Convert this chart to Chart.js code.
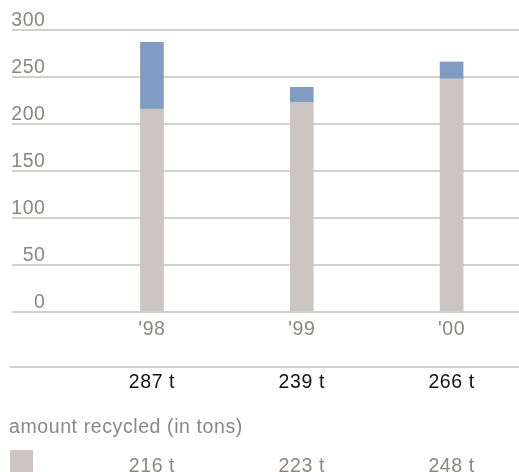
<!DOCTYPE html>
<html>
<head>
<meta charset="utf-8">
<script src="https://cdn.jsdelivr.net/npm/chart.js@4"></script>
<style>
  html, body { margin: 0; padding: 0; background: #fff; }
  #wrap { width: 519px; height: 472px; }
</style>
</head>
<body>
<div id="wrap"><canvas id="recycleChart" width="519" height="472"></canvas></div>
<script>
const years = ["'98", "'99", "'00"];
const totals = [287, 239, 266];
const recycled = [216, 223, 248];
const yTicks = [0, 50, 100, 150, 200, 250, 300];

const FONT = '"Liberation Sans", Arial, Helvetica, sans-serif';
const GREY_TEXT = '#8c8684';
const GRID = '#d3cfcd';
const BAR_GREY = '#cbc6c3';
const BAR_BLUE = '#819cc2';
const TRACKING = '0.6px';

// bars sit at x = 1, 2, 3 on a linear axis so the gridlines can run full width
const pos = years.map((y, i) => i + 1);
const rest = totals.map((t, i) => t - recycled[i]);

// slightly open tracking for all text
const spacingPlugin = {
    id: 'spacing',
    beforeDraw(chart) { chart.ctx.letterSpacing = TRACKING; }
};

// table under the chart: totals, caption and recycled amounts
const tablePlugin = {
    id: 'table',
    afterDraw(chart) {
        const ctx = chart.ctx;
        const x = chart.scales.x;
        ctx.save();
        ctx.letterSpacing = TRACKING;
        ctx.strokeStyle = GRID;
        ctx.lineWidth = 2;
        ctx.beginPath();
        ctx.moveTo(10, 367);
        ctx.lineTo(519, 367);
        ctx.stroke();

        ctx.font = '19.5px ' + FONT;
        ctx.textAlign = 'center';
        ctx.textBaseline = 'middle';
        ctx.fillStyle = '#111';
        totals.forEach((t, i) => ctx.fillText(t + ' t', x.getPixelForValue(pos[i]), 383));

        ctx.textAlign = 'left';
        ctx.fillStyle = GREY_TEXT;
        ctx.fillText('amount recycled (in tons)', 9, 428);

        ctx.fillStyle = BAR_GREY;
        ctx.fillRect(10, 450, 23, 24);

        ctx.textAlign = 'center';
        ctx.fillStyle = GREY_TEXT;
        recycled.forEach((v, i) => ctx.fillText(v + ' t', x.getPixelForValue(pos[i]), 467));
        ctx.restore();
    }
};

const ctx = document.getElementById('recycleChart').getContext('2d');
new Chart(ctx, {
    type: 'bar',
    data: {
        datasets: [{
            label: 'recycled',
            data: pos.map((p, i) => ({ x: p, y: recycled[i] })),
            backgroundColor: BAR_GREY,
            barThickness: 23
        }, {
            label: 'other',
            data: pos.map((p, i) => ({ x: p, y: rest[i] })),
            backgroundColor: BAR_BLUE,
            barThickness: 23
        }]
    },
    options: {
        responsive: false,
        animation: false,
        layout: { padding: { left: 10, right: 0, top: 30, bottom: 0 } },
        plugins: { legend: { display: false }, tooltip: { enabled: false } },
        scales: {
            x: {
                type: 'linear',
                stacked: true,
                offset: false,
                min: 0.066,
                max: 3.45,
                afterFit: s => { s.height = 160; },
                afterBuildTicks: s => { s.ticks = pos.map(v => ({ value: v })); },
                grid: { display: false },
                border: { display: false },
                ticks: {
                    padding: -2,
                    color: GREY_TEXT,
                    font: { family: FONT, size: 19.5 },
                    callback: v => years[pos.indexOf(v)]
                }
            },
            y: {
                stacked: true,
                min: 0,
                max: 300,
                afterBuildTicks: s => { s.ticks = yTicks.map(v => ({ value: v })); },
                grid: { color: GRID, lineWidth: 2, drawTicks: false },
                border: { display: false },
                ticks: {
                    mirror: true,
                    crossAlign: 'far',
                    padding: 1,
                    labelOffset: -9,
                    color: GREY_TEXT,
                    font: { family: FONT, size: 19.5 }
                }
            }
        }
    },
    plugins: [spacingPlugin, tablePlugin]
});
</script>
</body>
</html>
